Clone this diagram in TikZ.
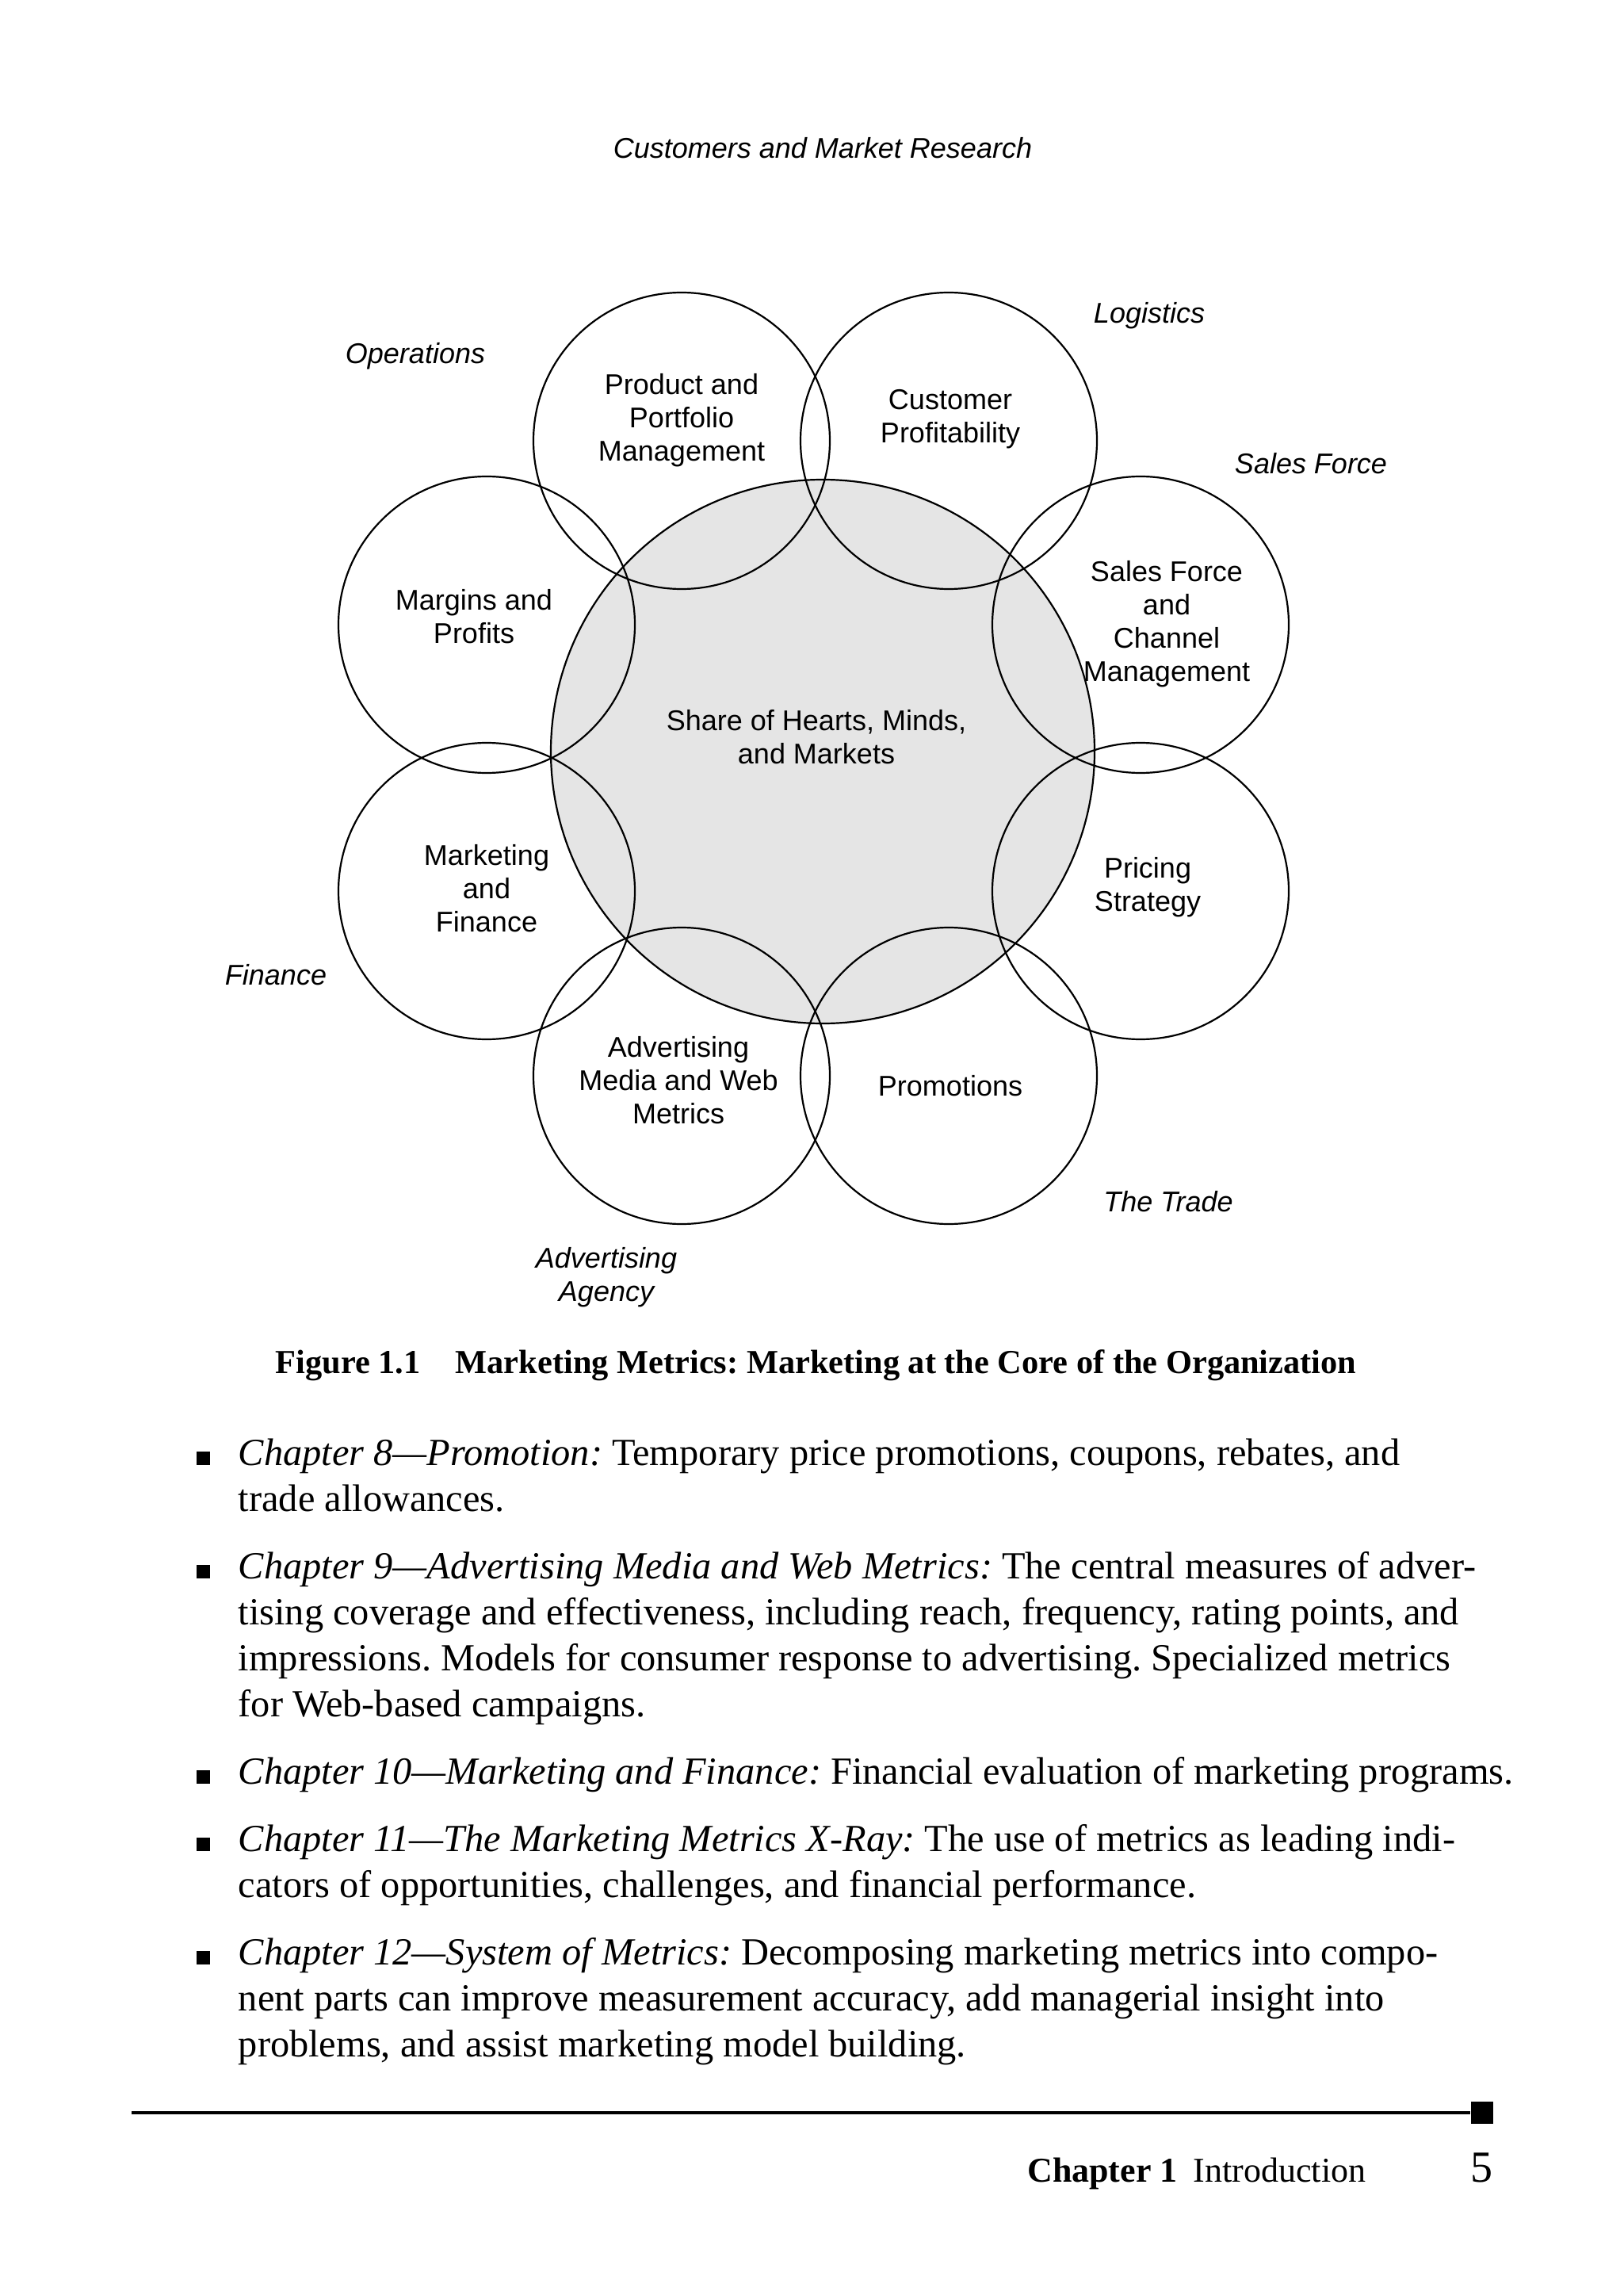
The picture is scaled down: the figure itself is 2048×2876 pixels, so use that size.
\documentclass[tikz,border=0pt]{standalone}
\usepackage{fontspec}
\setmainfont{Liberation Serif}
\newfontfamily\diagfont{Liberation Sans}
\frenchspacing
\begin{document}
\begin{tikzpicture}[x=0.25pt,y=-0.25pt,
  outer/.style={circle, draw=black, line width=0.55pt, minimum size=93.5pt, inner sep=0pt},
  core/.style={circle, draw=black, fill=black!10, line width=0.55pt, minimum size=171.5pt, inner sep=0pt},
  lab/.style={font=\diagfont\fontsize{9}{10.5}\selectfont, align=center, inner sep=0pt},
  ilab/.style={font=\diagfont\itshape\fontsize{9}{10.5}\selectfont, align=center, inner sep=0pt},
  body/.style={font=\frenchspacing\fontsize{12.1}{14.5}\selectfont, anchor=base west, inner sep=0pt},
  bul/.style={fill=black, inner sep=0pt, minimum size=4.3pt, anchor=south west}]
\useasboundingbox[fill=white] (0,0) rectangle (2048,2876);

% central circle
\node[core] (share) at (1038,948) {};
% outer circles
\node[outer] (ppm) at (860,556) {};
\node[outer] (cp) at (1197,556) {};
\node[outer] (sfc) at (1439,788) {};
\node[outer] (ps) at (1439,1124) {};
\node[outer] (pro) at (1197,1357) {};
\node[outer] (adv) at (860,1357) {};
\node[outer] (mf) at (614,1124) {};
\node[outer] (mp) at (614,788) {};

% circle labels
\node[lab] (tppm) at (860,530) {Product and\\Portfolio\\Management};
\node[lab] (tcp) at (1199,529) {Customer\\Profitability};
\node[lab] (tmp) at (598,778) {Margins and\\Profits};
\node[lab] (tsfc) at (1472,787) {Sales Force\\and\\Channel\\Management};
\node[lab] (tshare) at (1030,930) {Share of Hearts, Minds,\\and Markets};
\node[lab] (tmf) at (614,1121) {Marketing\\and\\Finance};
\node[lab] (tps) at (1448,1119) {Pricing\\Strategy};
\node[lab] (tadv) at (856,1363) {Advertising\\Media and Web\\Metrics};
\node[lab] (tpro) at (1199,1370) {Promotions};

% outside labels
\node[ilab] (tcust) at (1038,187) {Customers and Market Research};
\node[ilab] (tops) at (524,449) {Operations};
\node[ilab] (tlog) at (1450,398) {Logistics};
\node[ilab] (tsf) at (1654,585) {Sales Force};
\node[ilab] (tfin) at (348,1230) {Finance};
\node[ilab] (ttrade) at (1474,1516) {The Trade};
\node[ilab] (tagency) at (765,1611) {Advertising\\Agency};

% caption
\node[anchor=base west, inner sep=0pt, font=\frenchspacing\bfseries\fontsize{10.6}{13}\selectfont] (cap) at (347,1732)
  {Figure 1.1\hspace{11pt}Marketing Metrics: Marketing at the Core of the Organization};

% bullets
\node[bul] (b8) at (247,1849) {};
\node[bul] (b9) at (247,1992) {};
\node[bul] (b10) at (247,2251) {};
\node[bul] (b11) at (247,2336) {};
\node[bul] (b12) at (247,2479) {};

% body text
\node[body] (l1) at (300,1848) {\textit{Chapter 8—Promotion:} Temporary price promotions, coupons, rebates, and};
\node[body] (l2) at (300,1906) {trade allowances.};
\node[body] (l3) at (300,1991) {\textit{Chapter 9—Advertising Media and Web Metrics:} The central measures of adver-};
\node[body] (l4) at (300,2049) {tising coverage and effectiveness, including reach, frequency, rating points, and};
\node[body] (l5) at (300,2107) {impressions. Models for consumer response to advertising. Specialized metrics};
\node[body] (l6) at (300,2165) {for Web-based campaigns.};
\node[body] (l7) at (300,2250) {\textit{Chapter 10—Marketing and Finance:} Financial evaluation of marketing programs.};
\node[body] (l8) at (300,2335) {\textit{Chapter 11—The Marketing Metrics X-Ray:} The use of metrics as leading indi-};
\node[body] (l9) at (300,2393) {cators of opportunities, challenges, and financial performance.};
\node[body] (l10) at (300,2478) {\textit{Chapter 12—System of Metrics:} Decomposing marketing metrics into compo-};
\node[body] (l11) at (300,2536) {nent parts can improve measurement accuracy, add managerial insight into};
\node[body] (l12) at (300,2594) {problems, and assist marketing model building.};

% footer
\node[fill=black, inner sep=0pt, minimum size=7pt] (sq) at (1870,2665) {};
\coordinate (rl) at (166,2665);
\draw[line width=1pt] (rl) -- (sq.west);
\node[anchor=base east, inner sep=0pt, font=\fontsize{11}{13}\selectfont] (foot) at (1724,2752) {\textbf{Chapter 1}\hspace{5pt}Introduction};
\node[anchor=base east, inner sep=0pt, font=\fontsize{14}{16}\selectfont] (pg) at (1884,2752) {5};
\end{tikzpicture}
\end{document}
